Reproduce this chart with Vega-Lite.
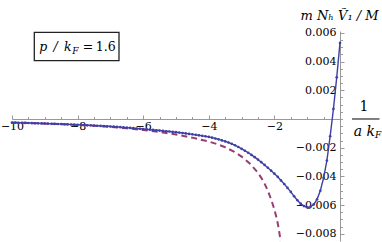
{
  "$schema": "https://vega.github.io/schema/vega-lite/v6.json",
  "width": 328,
  "height": 210,
  "autosize": "none",
  "padding": {"left": 12, "top": 31, "right": 42, "bottom": 1},
  "background": "white",
  "config": {"view": {"stroke": null}, "font": "DejaVu Serif"},
  "datasets": {
    "dashed": [
      {"x": -10, "V": -0.00025}, {"x": -9.5, "V": -0.00028}, {"x": -9, "V": -0.00032}, {"x": -8.5, "V": -0.00036},
      {"x": -8, "V": -0.00041}, {"x": -7.5, "V": -0.00047}, {"x": -7, "V": -0.00055}, {"x": -6.5, "V": -0.00065},
      {"x": -6, "V": -0.00077}, {"x": -5.5, "V": -0.00091}, {"x": -5, "V": -0.00108}, {"x": -4.5, "V": -0.0013},
      {"x": -4, "V": -0.00157}, {"x": -3.75, "V": -0.00175}, {"x": -3.5, "V": -0.00197}, {"x": -3.25, "V": -0.00225},
      {"x": -3, "V": -0.00262}, {"x": -2.75, "V": -0.0031}, {"x": -2.5, "V": -0.00375}, {"x": -2.4, "V": -0.0041},
      {"x": -2.3, "V": -0.0045}, {"x": -2.2, "V": -0.005}, {"x": -2.1, "V": -0.0056}, {"x": -2.0, "V": -0.0063},
      {"x": -1.95, "V": -0.00675}, {"x": -1.9, "V": -0.00725}, {"x": -1.85, "V": -0.0079}, {"x": -1.81, "V": -0.0085}
    ],
    "solid": [
      {"x": -10.0, "V": -0.00025}, {"x": -9.9, "V": -0.000256}, {"x": -9.8, "V": -0.000262}, {"x": -9.7, "V": -0.000268},
      {"x": -9.6, "V": -0.000274}, {"x": -9.5, "V": -0.000281}, {"x": -9.4, "V": -0.000288}, {"x": -9.3, "V": -0.000295},
      {"x": -9.2, "V": -0.000302}, {"x": -9.1, "V": -0.000309}, {"x": -9.0, "V": -0.000316}, {"x": -8.9, "V": -0.000323},
      {"x": -8.8, "V": -0.000331}, {"x": -8.7, "V": -0.000339}, {"x": -8.6, "V": -0.000347}, {"x": -8.5, "V": -0.000355},
      {"x": -8.4, "V": -0.000364}, {"x": -8.3, "V": -0.000373}, {"x": -8.2, "V": -0.000382}, {"x": -8.1, "V": -0.000391},
      {"x": -8.0, "V": -0.0004}, {"x": -7.9, "V": -0.000411}, {"x": -7.8, "V": -0.000422}, {"x": -7.7, "V": -0.000433},
      {"x": -7.6, "V": -0.000445}, {"x": -7.5, "V": -0.000457}, {"x": -7.4, "V": -0.000469}, {"x": -7.3, "V": -0.000481},
      {"x": -7.2, "V": -0.000494}, {"x": -7.1, "V": -0.000507}, {"x": -7.0, "V": -0.00052}, {"x": -6.9, "V": -0.000536},
      {"x": -6.8, "V": -0.000552}, {"x": -6.7, "V": -0.000569}, {"x": -6.6, "V": -0.000586}, {"x": -6.5, "V": -0.000604},
      {"x": -6.4, "V": -0.000623}, {"x": -6.3, "V": -0.000641}, {"x": -6.2, "V": -0.00066}, {"x": -6.1, "V": -0.00068},
      {"x": -6.0, "V": -0.0007}, {"x": -5.9, "V": -0.00072}, {"x": -5.8, "V": -0.000741}, {"x": -5.7, "V": -0.000762},
      {"x": -5.6, "V": -0.000784}, {"x": -5.5, "V": -0.000806}, {"x": -5.4, "V": -0.000829}, {"x": -5.3, "V": -0.000852},
      {"x": -5.2, "V": -0.000875}, {"x": -5.1, "V": -0.000898}, {"x": -5.0, "V": -0.00092}, {"x": -4.9, "V": -0.000948},
      {"x": -4.8, "V": -0.000977}, {"x": -4.7, "V": -0.001007}, {"x": -4.6, "V": -0.001038}, {"x": -4.5, "V": -0.00107},
      {"x": -4.4, "V": -0.001103}, {"x": -4.3, "V": -0.001137}, {"x": -4.2, "V": -0.001173}, {"x": -4.1, "V": -0.00121},
      {"x": -4.0, "V": -0.00125}, {"x": -3.9, "V": -0.0013}, {"x": -3.8, "V": -0.00136}, {"x": -3.7, "V": -0.00142},
      {"x": -3.6, "V": -0.00149}, {"x": -3.5, "V": -0.00156}, {"x": -3.4, "V": -0.00164}, {"x": -3.3, "V": -0.00173},
      {"x": -3.2, "V": -0.00183}, {"x": -3.1, "V": -0.00195}, {"x": -3.0, "V": -0.00208}, {"x": -2.9, "V": -0.00221},
      {"x": -2.8, "V": -0.00235}, {"x": -2.7, "V": -0.0025}, {"x": -2.6, "V": -0.00266}, {"x": -2.5, "V": -0.00283},
      {"x": -2.4, "V": -0.00301}, {"x": -2.3, "V": -0.0032}, {"x": -2.2, "V": -0.0034}, {"x": -2.1, "V": -0.0036},
      {"x": -2.0, "V": -0.00381}, {"x": -1.9, "V": -0.00403}, {"x": -1.8, "V": -0.00428}, {"x": -1.7, "V": -0.00453},
      {"x": -1.6, "V": -0.0048}, {"x": -1.5, "V": -0.00508}, {"x": -1.4, "V": -0.00538}, {"x": -1.3, "V": -0.00566},
      {"x": -1.2, "V": -0.0059}, {"x": -1.1, "V": -0.00607}, {"x": -1.0, "V": -0.00615}, {"x": -0.9, "V": -0.00612},
      {"x": -0.8, "V": -0.00595}, {"x": -0.7, "V": -0.0056}, {"x": -0.6, "V": -0.005}, {"x": -0.5, "V": -0.0041},
      {"x": -0.4, "V": -0.0029}, {"x": -0.3, "V": -0.0012}, {"x": -0.2, "V": 0.0007}, {"x": -0.1, "V": 0.0029},
      {"x": 0.0, "V": 0.0053}
    ]
  },
  "resolve": {"axis": {"x": "independent", "y": "independent"}},
  "layer": [
    {
      "data": {"name": "dashed"},
      "mark": {"type": "line", "color": "#993d71", "strokeWidth": 2, "strokeDash": [6, 4]},
      "encoding": {
        "x": {
          "field": "x", "type": "quantitative",
          "scale": {"domain": [-10, 0], "nice": false, "zero": false},
          "axis": {
            "orient": "top", "offset": -88, "values": [-10, -8, -6, -4, -2],
            "tickSize": 4, "tickColor": "#999999", "domainColor": "#999999", "grid": false,
            "labelPadding": -11.5, "labelBaseline": "middle", "labelAlign": "center",
            "labelFont": "DejaVu Serif", "labelFontSize": 11, "labelColor": "black",
            "labelFlush": false, "labelOverlap": false, "title": null
          }
        },
        "y": {
          "field": "V", "type": "quantitative",
          "scale": {"domain": [-0.0085, 0.00613], "nice": false, "zero": false},
          "axis": {
            "orient": "right", "values": [-0.008, -0.006, -0.004, -0.002, 0.002, 0.004, 0.006],
            "format": ".3f", "tickSize": 4, "tickColor": "#999999", "domainColor": "#999999", "grid": false,
            "labelPadding": -8, "labelAlign": "right", "labelBaseline": "middle",
            "labelFont": "DejaVu Serif", "labelFontSize": 11, "labelColor": "black",
            "labelFlush": false, "labelOverlap": false,
            "title": "m Nₕ Ṽ₁ / M", "titleAngle": 0, "titleX": -1, "titleY": -16,
            "titleAlign": "center", "titleBaseline": "middle", "titleFont": "DejaVu Serif",
            "titleFontSize": 13, "titleFontStyle": "italic", "titleFontWeight": "normal", "titleColor": "black"
          }
        }
      }
    },
    {
      "data": {"name": "solid"},
      "mark": {"type": "line", "color": "#3f3fa5", "strokeWidth": 1.4, "point": {"filled": true, "size": 7, "color": "#3f3fa5"}},
      "encoding": {
        "x": {
          "field": "x", "type": "quantitative",
          "scale": {"domain": [-10, 0], "nice": false, "zero": false},
          "axis": {
            "orient": "top", "offset": -88,
            "values": [-9.5, -9, -8.5, -7.5, -7, -6.5, -5.5, -5, -4.5, -3.5, -3, -2.5, -1.5, -1, -0.5],
            "tickSize": 2.5, "tickColor": "#999999", "domain": false, "labels": false, "grid": false, "title": null
          }
        },
        "y": {
          "field": "V", "type": "quantitative",
          "scale": {"domain": [-0.0085, 0.00613], "nice": false, "zero": false},
          "axis": {
            "orient": "right",
            "values": [-0.0075, -0.007, -0.0065, -0.0055, -0.005, -0.0045, -0.0035, -0.003, -0.0025, -0.0015, -0.001, -0.0005, 0, 0.0005, 0.001, 0.0015, 0.0025, 0.003, 0.0035, 0.0045, 0.005, 0.0055],
            "tickSize": 2.5, "tickColor": "#999999", "domain": false, "labels": false, "grid": false, "title": null
          }
        }
      }
    },
    {
      "data": {"values": [{"note": "box"}]},
      "mark": {"type": "rect", "fill": "white", "stroke": "#222222", "strokeWidth": 1.3},
      "encoding": {
        "x": {"datum": -9.32, "type": "quantitative", "axis": null},
        "x2": {"datum": -6.738},
        "y": {"datum": 0.00604, "type": "quantitative", "axis": null},
        "y2": {"datum": 0.00406}
      }
    },
    {
      "data": {"values": [{"label": "p\u2002/\u2002k"}]},
      "mark": {"type": "text", "font": "DejaVu Serif", "fontStyle": "italic", "fontSize": 12.5, "align": "left", "baseline": "middle", "color": "black"},
      "encoding": {
        "x": {"datum": -9.168, "type": "quantitative", "axis": null},
        "y": {"datum": 0.005037, "type": "quantitative", "axis": null},
        "text": {"field": "label"}
      }
    },
    {
      "data": {"values": [{"label": "F"}]},
      "mark": {"type": "text", "font": "DejaVu Serif", "fontStyle": "italic", "fontSize": 9, "align": "left", "baseline": "middle", "color": "black"},
      "encoding": {
        "x": {"datum": -8.16, "type": "quantitative", "axis": null},
        "y": {"datum": 0.004758, "type": "quantitative", "axis": null},
        "text": {"field": "label"}
      }
    },
    {
      "data": {"values": [{"label": "=\u20091.6"}]},
      "mark": {"type": "text", "font": "DejaVu Serif", "fontSize": 12.5, "align": "left", "baseline": "middle", "color": "black"},
      "encoding": {
        "x": {"datum": -7.84, "type": "quantitative", "axis": null},
        "y": {"datum": 0.005037, "type": "quantitative", "axis": null},
        "text": {"field": "label"}
      }
    },
    {
      "data": {"values": [{"label": "1"}]},
      "mark": {"type": "text", "font": "DejaVu Serif", "fontSize": 14, "align": "center", "baseline": "middle", "color": "black"},
      "encoding": {
        "x": {"datum": 0.732, "type": "quantitative", "axis": null},
        "y": {"datum": 0.000836, "type": "quantitative", "axis": null},
        "text": {"field": "label"}
      }
    },
    {
      "data": {"values": [{"note": "fraction bar"}]},
      "mark": {"type": "rule", "color": "black", "strokeWidth": 1},
      "encoding": {
        "x": {"datum": 0.366, "type": "quantitative", "axis": null},
        "x2": {"datum": 1.204},
        "y": {"datum": 0, "type": "quantitative", "axis": null}
      }
    },
    {
      "data": {"values": [{"label": "a k"}]},
      "mark": {"type": "text", "font": "DejaVu Serif", "fontStyle": "italic", "fontSize": 14, "align": "right", "baseline": "middle", "color": "black"},
      "encoding": {
        "x": {"datum": 1.067, "type": "quantitative", "axis": null},
        "y": {"datum": -0.000885, "type": "quantitative", "axis": null},
        "text": {"field": "label"}
      }
    },
    {
      "data": {"values": [{"label": "F"}]},
      "mark": {"type": "text", "font": "DejaVu Serif", "fontStyle": "italic", "fontSize": 9, "align": "left", "baseline": "middle", "color": "black"},
      "encoding": {
        "x": {"datum": 1.067, "type": "quantitative", "axis": null},
        "y": {"datum": -0.00115, "type": "quantitative", "axis": null},
        "text": {"field": "label"}
      }
    }
  ]
}
